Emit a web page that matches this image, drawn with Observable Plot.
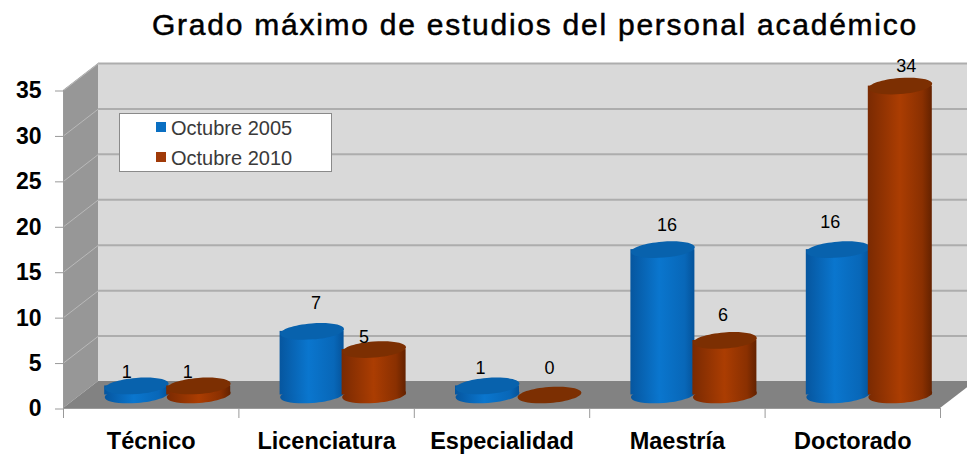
<!DOCTYPE html>
<html><head><meta charset="utf-8">
<script src="https://cdn.jsdelivr.net/npm/d3@7"></script>
<script src="https://cdn.jsdelivr.net/npm/@observablehq/plot@0.6"></script>
<style>
html,body{margin:0;padding:0;background:#fff}
#wrap{position:relative;width:967px;height:455px;overflow:hidden;font-family:"Liberation Sans",Arial,sans-serif}
figure{margin:0}
figure h2{margin:0;height:50px;line-height:50px;font-size:30px;font-weight:normal;color:#000;text-align:left;padding-left:152px;letter-spacing:1.75px;-webkit-text-stroke:.5px #000;box-sizing:border-box;white-space:nowrap}
#legend{position:absolute;left:119px;top:113px;width:211px;height:57px;background:#fff;border:1px solid #8a8a8a;font-size:20px;color:#3a3a3a}
#legend div{position:absolute;left:36px;height:30px;line-height:30px;white-space:nowrap;padding-left:15px}
#legend i{position:absolute;left:0;top:9px;width:10px;height:10px}
</style></head><body>
<div id="wrap"></div>
<script>
const titleText = "Grado máximo de estudios del personal académico";
const categories = ["Técnico", "Licenciatura", "Especialidad", "Maestría", "Doctorado"];
const octubre2005 = [1, 7, 1, 16, 16];
const octubre2010 = [1, 5, 0, 6, 34];
const seriesNames = ["Octubre 2005", "Octubre 2010"];
const yTicks = [0, 5, 10, 15, 20, 25, 30, 35];

// label nudges in pixels, kept apart from the values
const nudge2005 = [[-10,-14],[4,-28],[-7,-18],[4,-24],[-8,-27]];
const nudge2010 = [[-11,-14],[-10,-12],[0,-27],[-2,-25],[6,-20]];

const depthPx = [35, -27];
const unitX = 877 / 5, unitY = 318 / 35;
const depthX = depthPx[0] / unitX, depthY = -depthPx[1] / unitY;
const rxPx = 32, halfX = rxPx / unitX, overlapX = 2 / unitX;
const midDx = depthPx[0] / 2, midDy = depthPx[1] / 2;

function ellipse(rx, ry, deg) {
  const t = deg * Math.PI / 180, c = Math.cos(t), s = Math.sin(t), k = 0.5523;
  const p = (a, b) => [a * rx * c - b * ry * s, a * rx * s + b * ry * c];
  return { draw(ctx) {
    ctx.moveTo(...p(1, 0));
    ctx.bezierCurveTo(...p(1, k), ...p(k, 1), ...p(0, 1));
    ctx.bezierCurveTo(...p(-k, 1), ...p(-1, k), ...p(-1, 0));
    ctx.bezierCurveTo(...p(-1, -k), ...p(-k, -1), ...p(0, -1));
    ctx.bezierCurveTo(...p(k, -1), ...p(1, -k), ...p(1, 0));
    ctx.closePath();
  }};
}
const cap = ellipse(rxPx, 8, -4.5);

const bars = [];
categories.forEach((c, i) => {
  bars.push({cat: c, i, x: i + 0.5 - halfX, v: octubre2005[i], grad: "url(#gBlue)", top: "#0862ad", n: nudge2005[i]});
  bars.push({cat: c, i, x: i + 0.5 + halfX - overlapX, v: octubre2010[i], grad: "url(#gBrown)", top: "#7c2f02", n: nudge2010[i]});
});

const defs = () => {
  const d = d3.create("svg:defs");
  const g = (id, stops) => {
    const lg = d.append("linearGradient").attr("id", id);
    stops.forEach(([o, col]) => lg.append("stop").attr("offset", o).attr("stop-color", col));
  };
  g("gBlue", [[0, "#06569f"], [.45, "#0a76ce"], [.85, "#0867b8"], [1, "#05539a"]]);
  g("gBrown", [[0, "#7a2a02"], [.5, "#ab3d02"], [.85, "#8a3001"], [1, "#642200"]]);
  return d.node();
};

const gridColor = "#adadad";
const marks = [
  defs,
  // back wall
  Plot.rect([0], {x1: 0, x2: 5, y1: 0, y2: 35, dx: depthPx[0], dy: depthPx[1], fill: "#d9d9d9"}),
  // side wall
  Plot.areaY([0, 1], {x: d => d * depthX, y1: d => d * depthY, y2: d => 35 + d * depthY, fill: "#979797"}),
  // floor
  Plot.areaX([0, 1], {y: d => d * depthY, x1: d => d * depthX, x2: d => 5 + d * depthX, fill: "#828282"}),
  // grid on back wall
  Plot.ruleY(yTicks.slice(1), {x1: 0, x2: 5, y: d => d, dx: depthPx[0], dy: depthPx[1], stroke: gridColor, strokeWidth: 2}),
  // grid on side wall
  ...yTicks.slice(1).map(v => Plot.line([0, 1], {x: d => d * depthX, y: d => v + d * depthY, stroke: "#b9b9b9", strokeWidth: 1})),
  Plot.ruleY([0], {x1: 0, x2: 5, stroke: "#9a9a9a"}),
  Plot.ruleX([0], {y1: 0, y2: 35, stroke: "#9a9a9a"}),
  Plot.axisY({ticks: yTicks, tickSize: 8, tickPadding: 14, fontSize: 23, fontWeight: "bold", stroke: "#999", fill: "#000", label: null, fontFamily: "Liberation Sans", dy: 0.5}),
  Plot.axisX({ticks: d3.range(6), tickSize: 10, tickFormat: () => "", stroke: "#999", label: null}),
  Plot.axisX({ticks: categories.map((c, i) => i + 0.5), tickSize: 0, tickPadding: 24, tickFormat: d => categories[d - 0.5],
    fontSize: 23.5, fontWeight: "bold", fill: "#000", label: null, fontFamily: "Liberation Sans"})
];
bars.forEach(b => {
  const off = {dx: midDx, dy: midDy};
  if (b.v > 0) {
    marks.push(Plot.dot([b], {x: "x", y: 0, r: 1, symbol: cap, fill: b.grad, ...off}));
    marks.push(Plot.rect([b], {x1: d => d.x - halfX, x2: d => d.x + halfX, y1: 0, y2: "v", fill: b.grad, ...off}));
  }
  marks.push(Plot.dot([b], {x: "x", y: "v", r: 1, symbol: cap, fill: b.top, ...off}));
});
bars.forEach(b => {
  marks.push(Plot.text([b], {x: "x", y: "v", text: d => String(d.v), dx: midDx + b.n[0], dy: midDy + b.n[1],
    fontSize: 18, fill: "#000", fontFamily: "Liberation Sans"}));
});

const chart = Plot.plot({
  title: titleText,
  width: 967, height: 405,
  marginLeft: 63, marginRight: 27, marginTop: 40, marginBottom: 47,
  x: {type: "linear", domain: [0, 5]},
  y: {domain: [0, 35]},
  style: {background: "transparent", overflow: "visible"},
  marks
});
const wrap = document.getElementById("wrap");
wrap.appendChild(chart);
const lg = document.createElement("div");
lg.id = "legend";
lg.innerHTML = seriesNames.map((s, k) =>
  `<div style="top:${k === 0 ? -1 : 29}px"><i style="background:${k === 0 ? "#0a6fc2" : "#a03a08"}"></i>${s}</div>`).join("");
wrap.appendChild(lg);
</script>
</body></html>
